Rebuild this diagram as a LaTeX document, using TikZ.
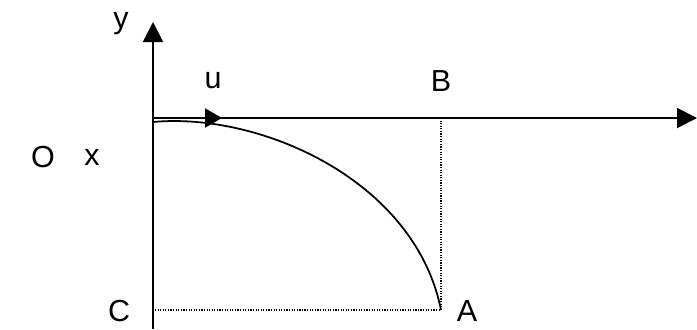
\documentclass[tikz,border=0pt]{standalone}
\usepackage{fontspec}
\setmainfont{Liberation Sans}
\usetikzlibrary{arrows.meta}

\tikzset{
  axis/.style={line width=1.7pt, -{Triangle[length=0.6cm, width=0.6cm]}},
  guide/.style={dash pattern=on 1pt off 1.2pt, line width=1.1pt},
  lbl/.style={font=\fontsize{26}{30}\selectfont, inner sep=0pt}
}

\begin{document}
\begin{tikzpicture}[x=0.03cm, y=-0.03cm]
  \useasboundingbox (0,0) rectangle (697,329);
  \coordinate (O) at (153,118);
  \coordinate (ybot) at (153,329);
  \coordinate (ytop) at (153,22);
  \coordinate (xend) at (697,118);
  \coordinate (utip) at (222,118);
  \coordinate (start) at (153,122);
  \coordinate (A) at (441,310);
  \coordinate (B) at (441,118);
  \coordinate (C) at (155,310);
  % axes
  \draw[axis] (ybot) -- (ytop);
  \draw[axis] (O) -- (xend);
  \draw[line width=1.7pt, -{Triangle[length=0.51cm, width=0.57cm]}] (O) -- (utip);
  % path of the projectile
  \draw[line width=1.5pt] (start) .. controls (260,112) and (415,180) .. (A);
  \draw[guide] (B) -- (A);
  \draw[guide] (C) -- (A);
  % labels
  \node[lbl] (ly) at (121,24) {y};
  \node[lbl] (lu) at (213,81) {u};
  \node[lbl] (lB) at (441,81) {B};
  \node[lbl] (lO) at (43,157) {O};
  \node[lbl] (lx) at (92,157) {x};
  \node[lbl] (lC) at (119,311) {C};
  \node[lbl] (lA) at (467,311) {A};
\end{tikzpicture}
\end{document}
